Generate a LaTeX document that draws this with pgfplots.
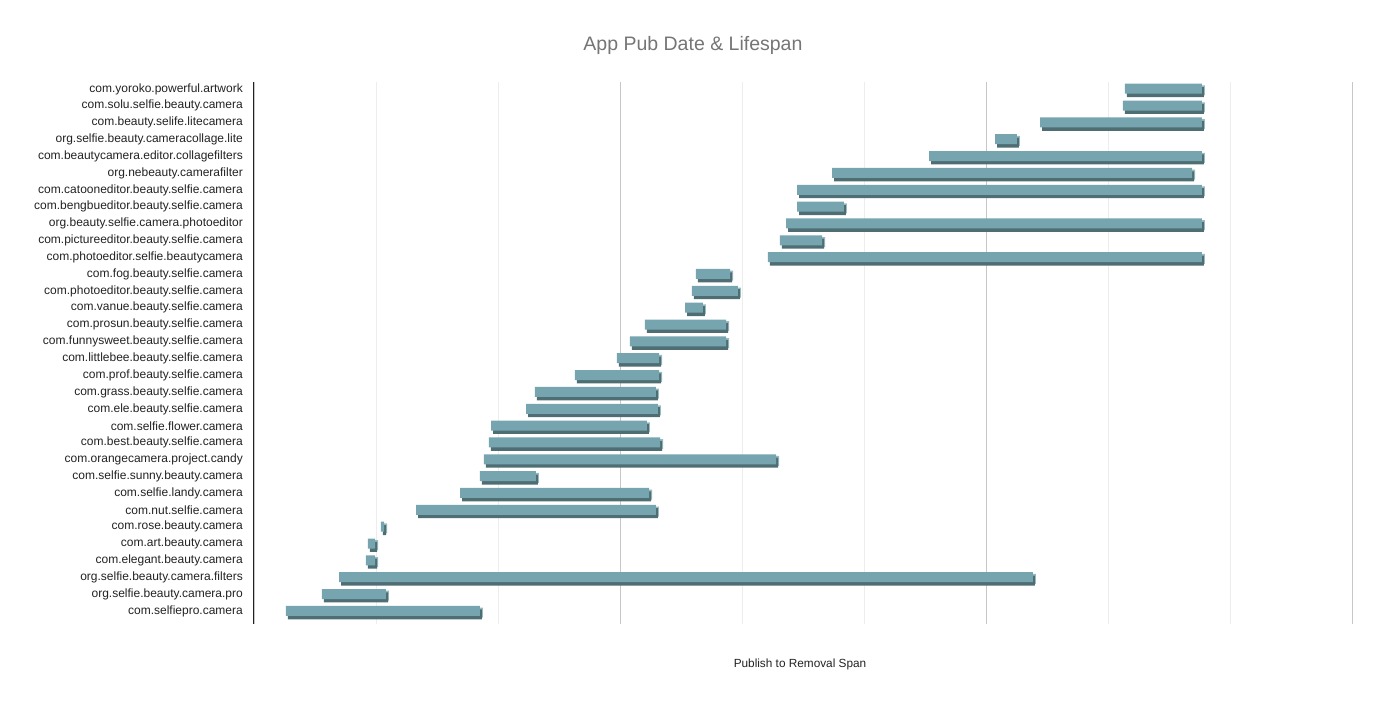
\documentclass[border=0pt]{standalone}
\usepackage{pgfplots}
\usepackage{pgfplotstable}
\pgfplotsset{compat=1.18}
\usepackage{fontspec}
\setmainfont{Liberation Sans}
\definecolor{barfront}{HTML}{76A5AF}
\definecolor{bardark}{HTML}{4E6E74}
\definecolor{barside}{HTML}{98BAC1}
\definecolor{titlegray}{HTML}{757575}
\definecolor{labelgray}{HTML}{222222}

\pgfplotstableread{
y s e
0 0.262 1.852
1 0.557 1.082
2 0.697 6.385
3 0.918 0.992
4 0.934 0.992
5 1.041 1.066
6 1.328 3.295
7 1.689 3.238
8 1.852 2.311
9 1.885 4.279
10 1.926 3.328
11 1.943 3.221
12 2.230 3.311
13 2.303 3.295
14 2.631 3.320
15 2.975 3.320
16 3.082 3.869
17 3.205 3.869
18 3.533 3.680
19 3.590 3.967
20 3.623 3.902
21 4.213 7.770
22 4.311 4.656
23 4.361 7.770
24 4.451 4.836
25 4.451 7.770
26 4.738 7.689
27 5.533 7.770
28 6.074 6.254
29 6.443 7.770
30 7.123 7.770
31 7.139 7.770
}\bars

\pgfplotsset{
  base/.style={
    scale only axis, width=1098bp, height=542bp,
    at={(0,0)}, anchor=south west,
    xmin=0, xmax=9, ymin=-0.678, ymax=31.5,
    enlargelimits=false,
    xbar stacked, bar width=10bp,
  },
}

\begin{document}
\begin{tikzpicture}
\path[use as bounding box] (-254bp,-79bp) rectangle (1134bp,624bp);
% axis with grid, labels and the side/bottom faces of the bars
\begin{axis}[base,
  axis lines*=left,
  x axis line style={draw=none},
  y axis line style={draw=labelgray, line width=1bp},
  xtick={0,3,6,9}, minor xtick={1,2,4,5,7,8},
  xticklabels={},
  xmajorgrids, xminorgrids,
  major grid style={draw=black!22, line width=0.8bp},
  minor grid style={draw=black!7, line width=0.8bp},
  major tick length=0pt, minor tick length=0pt,
  ytick={0,...,31},
  yticklabels={com.selfiepro.camera,
    org.selfie.beauty.camera.pro,
    org.selfie.beauty.camera.filters,
    com.elegant.beauty.camera,
    com.art.beauty.camera,
    com.rose.beauty.camera,
    com.nut.selfie.camera,
    com.selfie.landy.camera,
    com.selfie.sunny.beauty.camera,
    com.orangecamera.project.candy,
    com.best.beauty.selfie.camera,
    com.selfie.flower.camera,
    com.ele.beauty.selfie.camera,
    com.grass.beauty.selfie.camera,
    com.prof.beauty.selfie.camera,
    com.littlebee.beauty.selfie.camera,
    com.funnysweet.beauty.selfie.camera,
    com.prosun.beauty.selfie.camera,
    com.vanue.beauty.selfie.camera,
    com.photoeditor.beauty.selfie.camera,
    com.fog.beauty.selfie.camera,
    com.photoeditor.selfie.beautycamera,
    com.pictureeditor.beauty.selfie.camera,
    org.beauty.selfie.camera.photoeditor,
    com.bengbueditor.beauty.selfie.camera,
    com.catooneditor.beauty.selfie.camera,
    org.nebeauty.camerafilter,
    com.beautycamera.editor.collagefilters,
    org.selfie.beauty.cameracollage.lite,
    com.beauty.selife.litecamera,
    com.solu.selfie.beauty.camera,
    com.yoroko.powerful.artwork},
  yticklabel style={font=\fontsize{12bp}{14bp}\selectfont, text=labelgray, anchor=east, inner sep=0pt, xshift=-11bp, yshift=1.5bp},
  title={App Pub Date \& Lifespan},
  title style={font=\fontsize{19.5bp}{22bp}\selectfont, text=titlegray, at={(axis description cs:0.3998,1)}, anchor=center, yshift=31bp},
  xlabel={Publish to Removal Span},
  xlabel style={font=\fontsize{11.8bp}{14bp}\selectfont, text=labelgray, at={(axis description cs:0.4973,0)}, anchor=center, yshift=-40bp},
]
\addplot[draw=none, fill=none] table[x expr=\thisrow{s}+0.0246, y=y]{\bars};
\addplot[draw=none, fill=barside, bar shift=0bp] table[x expr=\thisrow{e}-\thisrow{s}, y=y]{\bars};
\end{axis}
\begin{axis}[base, hide axis]
\addplot[draw=none, fill=none, bar shift=-1.7bp] table[x expr=\thisrow{s}+0.0164, y=y]{\bars};
\addplot[draw=none, fill=bardark, bar shift=-1.7bp] table[x expr=\thisrow{e}-\thisrow{s}, y=y]{\bars};
\end{axis}
\begin{axis}[base, hide axis]
\addplot[draw=none, fill=none, bar shift=1.7bp] table[x=s, y=y]{\bars};
\addplot[draw=none, fill=barfront, bar shift=1.7bp] table[x expr=\thisrow{e}-\thisrow{s}, y=y]{\bars};
\end{axis}
\end{tikzpicture}
\end{document}
